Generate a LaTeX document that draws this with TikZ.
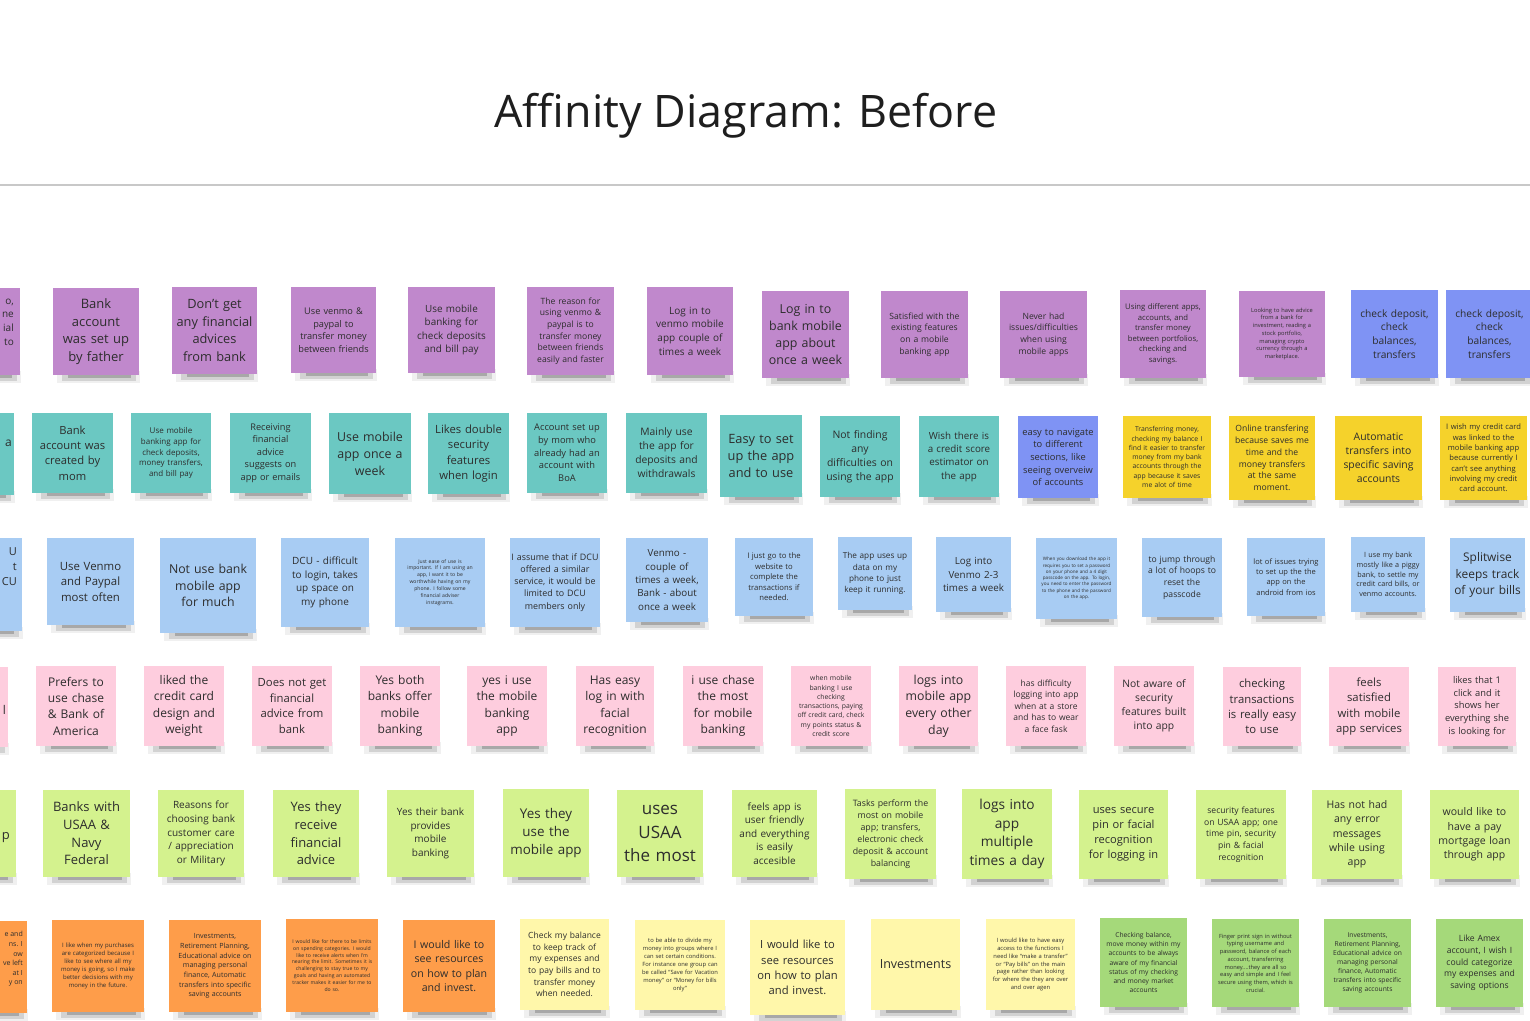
\documentclass[tikz,border=0pt]{standalone}
\usepackage{fontspec}
\setmainfont{Open Sans}
\definecolor{cpurple}{RGB}{192,136,204}
\definecolor{cteal}{RGB}{107,200,194}
\definecolor{cviolet}{RGB}{127,147,244}
\definecolor{cyellow}{RGB}{245,210,43}
\definecolor{cblue}{RGB}{168,204,243}
\definecolor{cpink}{RGB}{254,205,222}
\definecolor{cgreen}{RGB}{212,242,142}
\definecolor{corange}{RGB}{254,157,74}
\definecolor{cpale}{RGB}{255,247,170}
\definecolor{cmid}{RGB}{165,217,122}
\definecolor{ctext}{RGB}{45,45,45}
\definecolor{ctitle}{RGB}{30,30,30}
\definecolor{crule}{RGB}{200,200,200}
\tikzset{
  note/.style={inner sep=0pt, align=center, text=ctext},
  frag/.style={inner sep=0pt, align=right, text=ctext, anchor=east},
}
% name, colour, x0, y0, x1, y1, font size, text
\newcommand\sticky[8]{%
  \pgfmathsetmacro\sw{#5-#3}%
  \pgfmathsetmacro\sh{#6-#4}%
  \pgfmathsetmacro\tw{#5-#3-2}%
  \pgfmathsetmacro\bs{#7*1.36}%
  \fill[black,opacity=0.06] (#3+4,#6-4) rectangle (#5+1,#6+8);
  \fill[black,opacity=0.12] (#3+9,#6-3) rectangle (#5-3,#6+5.5);
  \fill[black,opacity=0.20] (#3+15,#6-2) rectangle (#5-8,#6+3);
  \node[note, fill=#2, minimum width=\sw pt, minimum height=\sh pt,
        text width=\tw pt, font=\fontsize{#7}{\bs}\selectfont]
        (#1) at ({(#3+#5)/2},{(#4+#6)/2}) {#8};
}
\begin{document}
\begin{tikzpicture}[x=1pt,y=-1pt]
\useasboundingbox (0,0) rectangle (1530,1020);
\fill[white] (0,0) rectangle (1530,1020);
\clip (0,0) rectangle (1530,1020);

\node[font=\fontsize{44.8}{50}\selectfont, text=ctitle, inner sep=0pt, anchor=base] (title) at (746,127) {Affinity Diagram: Before};
\draw[crule, line width=1.5pt] (0,185) -- (1530,185);

% ---------- row 1 ----------
\sticky{p0}{cpurple}{-66}{288}{20}{375}{10}{}
\node[frag, font=\fontsize{10}{13.7}\selectfont] (p0t) at (14,322) {o,\\ne\\ial\\to};
\sticky{p1}{cpurple}{53}{288}{139}{375}{13}{Bank\\account\\was set up\\by father}
\sticky{p2}{cpurple}{172}{287}{257}{374}{12.8}{Don't get\\any financial\\advices\\from bank}
\sticky{p3}{cpurple}{291}{287}{376}{373}{9.2}{Use venmo \&\\paypal to\\transfer money\\between friends}
\sticky{p4}{cpurple}{408}{287}{495}{373}{9.9}{Use mobile\\banking for\\check deposits\\and bill pay}
\sticky{p5}{cpurple}{527}{287}{614}{375}{8.6}{The reason for\\using venmo \&\\paypal is to\\transfer money\\between friends\\easily and faster}
\sticky{p6}{cpurple}{647}{287}{733}{375}{10}{Log in to\\venmo mobile\\app couple of\\times a week}
\sticky{p7}{cpurple}{762}{291}{849}{378}{12.4}{Log in to\\bank mobile\\app about\\once a week}
\sticky{p8}{cpurple}{881}{291}{968}{378}{8.6}{Satisfied with the\\existing features\\on a mobile\\banking app}
\sticky{p9}{cpurple}{1000}{291}{1087}{378}{8.6}{Never had\\issues/difficulties\\when using\\mobile apps}
\sticky{p10}{cpurple}{1120}{290}{1206}{378}{7.7}{Using different apps,\\accounts, and\\transfer money\\between portfolios,\\checking and\\savings.}
\sticky{p11}{cpurple}{1239}{291}{1325}{377}{5.7}{Looking to have advice\\from a bank for\\investment, reading a\\stock portfolio,\\managing crypto\\currency through a\\marketplace.}
\sticky{v1}{cviolet}{1351}{290}{1438}{378}{10.2}{check deposit,\\check\\balances,\\transfers}
\sticky{v2}{cviolet}{1446}{290}{1533}{378}{10.2}{check deposit,\\check\\balances,\\transfers}

% ---------- row 2 ----------
\sticky{t0}{cteal}{-68}{413}{14}{495}{12}{}
\node[frag, font=\fontsize{12}{16}\selectfont] (t0t) at (12,443) {a};
\sticky{t1}{cteal}{32}{413}{113}{493}{11.2}{Bank\\account was\\created by\\mom}
\sticky{t2}{cteal}{131}{413}{211}{493}{8}{Use mobile\\banking app for\\check deposits,\\money transfers,\\and bill pay}
\sticky{t3}{cteal}{230}{413}{311}{493}{9.2}{Receiving\\financial\\advice\\suggests on\\app or emails}
\sticky{t4}{cteal}{329}{413}{411}{494}{12.4}{Use mobile\\app once a\\week}
\sticky{t5}{cteal}{428}{413}{509}{494}{11.3}{Likes double\\security\\features\\when login}
\sticky{t6}{cteal}{527}{413}{607}{493}{9.3}{Account set up\\by mom who\\already had an\\account with\\BoA}
\sticky{t7}{cteal}{626}{413}{707}{493}{10.3}{Mainly use\\the app for\\deposits and\\withdrawals}
\sticky{t8}{cteal}{720}{415}{802}{497}{12.8}{Easy to set\\up the app\\and to use}
\sticky{t9}{cteal}{820}{416}{900}{497}{10.4}{Not finding\\any\\difficulties on\\using the app}
\sticky{t10}{cteal}{919}{416}{999}{497}{9.8}{Wish there is\\a credit score\\estimator on\\the app}
\sticky{v3}{cviolet}{1018}{416}{1098}{498}{9.3}{easy to navigate\\to different\\sections, like\\seeing overveiw\\of accounts}
\sticky{y1}{cyellow}{1123}{416}{1211}{498}{6.8}{Transferring money,\\checking my balance I\\find it easier to transfer\\money from my bank\\accounts through the\\app because it saves\\me alot of time}
\sticky{y2}{cyellow}{1229}{416}{1315}{500}{8.6}{Online transfering\\because saves me\\time and the\\money transfers\\at the same\\moment.}
\sticky{y3}{cyellow}{1335}{416}{1422}{500}{10.4}{Automatic\\transfers into\\specific saving\\accounts}
\sticky{y4}{cyellow}{1440}{416}{1527}{500}{7.6}{I wish my credit card\\was linked to the\\mobile banking app\\because currently I\\can't see anything\\involving my credit\\card account.}

% ---------- row 3 ----------
\sticky{l0}{cblue}{-66}{538}{22}{631}{11}{}
\node[frag, font=\fontsize{11}{15}\selectfont] (l0t) at (17,567) {U\\t\\CU};
\sticky{l1}{cblue}{47}{538}{134}{625}{11.4}{Use Venmo\\and Paypal\\most often}
\sticky{l2}{cblue}{160}{538}{256}{633}{12.3}{Not use bank\\mobile app\\for much}
\sticky{l3}{cblue}{281}{538}{369}{627}{10}{DCU - difficult\\to login, takes\\up space on\\my phone}
\sticky{l4}{cblue}{395}{538}{485}{627}{5.1}{Just ease of use is\\important. If I am using an\\app, I want it to be\\worthwhile having on my\\phone. I follow some\\financial adviser\\instagrams.}
\sticky{l5}{cblue}{510}{538}{600}{627}{8.9}{I assume that if DCU\\offered a similar\\service, it would be\\limited to DCU\\members only}
\sticky{l6}{cblue}{626}{538}{708}{622}{9.8}{Venmo -\\couple of\\times a week,\\Bank - about\\once a week}
\sticky{l7}{cblue}{735}{538}{813}{616}{7.7}{I just go to the\\website to\\complete the\\transactions if\\needed.}
\sticky{l8}{cblue}{838}{537}{912}{610}{8.2}{The app uses up\\data on my\\phone to just\\keep it running.}
\sticky{l9}{cblue}{936}{537}{1011}{612}{9.8}{Log into\\Venmo 2-3\\times a week}
\sticky{l10}{cblue}{1036}{538}{1117}{619}{4.6}{When you download the app it\\requires you to set a password\\on your phone and a 4 digit\\passcode on the app. To login,\\you need to enter the password\\to the phone and the password\\on the app.}
\sticky{l11}{cblue}{1142}{538}{1222}{617}{8.6}{to jump through\\a lot of hoops to\\reset the\\passcode}
\sticky{l12}{cblue}{1247}{538}{1325}{616}{7.5}{lot of issues trying\\to set up the the\\app on the\\android from ios}
\sticky{l13}{cblue}{1351}{537}{1425}{612}{7.2}{I use my bank\\mostly like a piggy\\bank, to settle my\\credit card bills, or\\venmo accounts.}
\sticky{l14}{cblue}{1450}{538}{1525}{612}{11.9}{Splitwise\\keeps track\\of your bills}

% ---------- row 4 ----------
\sticky{k0}{cpink}{-72}{667}{8}{747}{12}{}
\node[frag, font=\fontsize{12}{16}\selectfont] (k0t) at (6,710) {l};
\sticky{k1}{cpink}{36}{666}{116}{746}{12}{Prefers to\\use chase\\\& Bank of\\America}
\sticky{k2}{cpink}{144}{666}{224}{746}{12}{liked the\\credit card\\design and\\weight}
\sticky{k3}{cpink}{252}{666}{332}{746}{11.3}{Does not get\\financial\\advice from\\bank}
\sticky{k4}{cpink}{360}{666}{440}{746}{12}{Yes both\\banks offer\\mobile\\banking}
\sticky{k5}{cpink}{467}{666}{547}{746}{12}{yes i use\\the mobile\\banking\\app}
\sticky{k6}{cpink}{576}{666}{654}{746}{12}{Has easy\\log in with\\facial\\recognition}
\sticky{k7}{cpink}{683}{666}{763}{746}{12}{i use chase\\the most\\for mobile\\banking}
\sticky{k8}{cpink}{791}{666}{871}{746}{6.8}{when mobile\\banking I use\\checking\\transactions, paying\\off credit card, check\\my points status \&\\credit score}
\sticky{k9}{cpink}{899}{666}{978}{746}{12.3}{logs into\\mobile app\\every other\\day}
\sticky{k10}{cpink}{1006}{666}{1086}{746}{8.5}{has difficulty\\logging into app\\when at a store\\and has to wear\\a face fask}
\sticky{k11}{cpink}{1114}{666}{1194}{746}{10.3}{Not aware of\\security\\features built\\into app}
\sticky{k12}{cpink}{1223}{667}{1301}{746}{11.3}{checking\\transactions\\is really easy\\to use}
\sticky{k13}{cpink}{1329}{667}{1409}{746}{11.3}{feels\\satisfied\\with mobile\\app services}
\sticky{k14}{cpink}{1438}{667}{1516}{746}{9.3}{likes that 1\\click and it\\shows her\\everything she\\is looking for}

% ---------- row 5 ----------
\sticky{g0}{cgreen}{-70}{790}{16}{877}{13}{}
\node[frag, font=\fontsize{13}{17}\selectfont] (g0t) at (10,838) {p};
\sticky{g1}{cgreen}{43}{790}{130}{877}{13}{Banks with\\USAA \&\\Navy\\Federal}
\sticky{g2}{cgreen}{158}{790}{244}{877}{10}{Reasons for\\choosing bank\\customer care\\/ appreciation\\or Military}
\sticky{g3}{cgreen}{273}{790}{359}{877}{13}{Yes they\\receive\\financial\\advice}
\sticky{g4}{cgreen}{387}{790}{474}{877}{10}{Yes their bank\\provides\\mobile\\banking}
\sticky{g5}{cgreen}{503}{789}{589}{877}{13.4}{Yes they\\use the\\mobile app}
\sticky{g6}{cgreen}{617}{790}{703}{877}{17}{uses\\USAA\\the most}
\sticky{g7}{cgreen}{732}{790}{817}{877}{10}{feels app is\\user friendly\\and everything\\is easily\\accesible}
\sticky{g8}{cgreen}{845}{789}{936}{879}{8.8}{Tasks perform the\\most on mobile\\app; transfers,\\electronic check\\deposit \& account\\balancing}
\sticky{g9}{cgreen}{962}{789}{1052}{879}{13.7}{logs into\\app\\multiple\\times a day}
\sticky{g10}{cgreen}{1079}{790}{1168}{879}{11.1}{uses secure\\pin or facial\\recognition\\for logging in}
\sticky{g11}{cgreen}{1196}{790}{1286}{879}{8.6}{security features\\on USAA app; one\\time pin, security\\pin \& facial\\recognition}
\sticky{g12}{cgreen}{1312}{790}{1402}{879}{10.5}{Has not had\\any error\\messages\\while using\\app}
\sticky{g13}{cgreen}{1430}{790}{1519}{879}{10.5}{would like to\\have a pay\\mortgage loan\\through app}

% ---------- row 6 ----------
\sticky{o0}{corange}{-66}{921}{27}{1013}{7}{}
\node[frag, font=\fontsize{7}{9.6}\selectfont] (o0t) at (23,959) {e and\\ns. I\\ow\\ve left\\at I\\y on};
\sticky{o1}{corange}{52}{920}{144}{1012}{6}{I like when my purchases\\are categorized because I\\like to see where all my\\money is going, so I make\\better decisions with my\\money in the future.}
\sticky{o2}{corange}{169}{920}{261}{1012}{7.1}{Investments,\\Retirement Planning,\\Educational advice on\\managing personal\\finance, Automatic\\transfers into specific\\saving accounts}
\sticky{o3}{corange}{286}{919}{378}{1012}{5.1}{I would like for there to be limits\\on spending categories. I would\\like to receive alerts when I'm\\nearing the limit. Sometimes it is\\challenging to stay true to my\\goals and having an automated\\tracker makes it easier for me to\\do so.}
\sticky{o4}{corange}{403}{920}{495}{1012}{10.6}{I would like to\\see resources\\on how to plan\\and invest.}
\sticky{w1}{cpale}{520}{919}{609}{1010}{8.5}{Check my balance\\to keep track of\\my expenses and\\to pay bills and to\\transfer money\\when needed.}
\sticky{w2}{cpale}{635}{920}{725}{1010}{5.8}{to be able to divide my\\money into groups where I\\can set certain conditions.\\For instance one group can\\be called “Save for Vacation\\money” or “Money for bills\\only”}
\sticky{w3}{cpale}{750}{920}{845}{1015}{11.2}{I would like to\\see resources\\on how to plan\\and invest.}
\sticky{w4}{cpale}{871}{919}{960}{1010}{12.5}{Investments}
\sticky{w5}{cpale}{986}{919}{1075}{1010}{5.8}{I would like to have easy\\access to the functions I\\need like “make a transfer”\\or “Pay bills” on the main\\page rather than looking\\for where the they are over\\and over agen}
\sticky{m1}{cmid}{1100}{918}{1187}{1007}{6.7}{Checking balance,\\move money within my\\accounts to be always\\aware of my financial\\status of my checking\\and money market\\accounts}
\sticky{m2}{cmid}{1212}{919}{1299}{1007}{5.7}{Finger print sign in without\\typing username and\\password, balance of each\\account, transferring\\money....they are all so\\easy and simple and I feel\\secure using them, which is\\crucial.}
\sticky{m3}{cmid}{1324}{919}{1411}{1007}{6.7}{Investments,\\Retirement Planning,\\Educational advice on\\managing personal\\finance, Automatic\\transfers into specific\\saving accounts}
\sticky{m4}{cmid}{1436}{919}{1523}{1007}{8.6}{Like Amex\\account, I wish I\\could categorize\\my expenses and\\saving options}
\end{tikzpicture}
\end{document}
